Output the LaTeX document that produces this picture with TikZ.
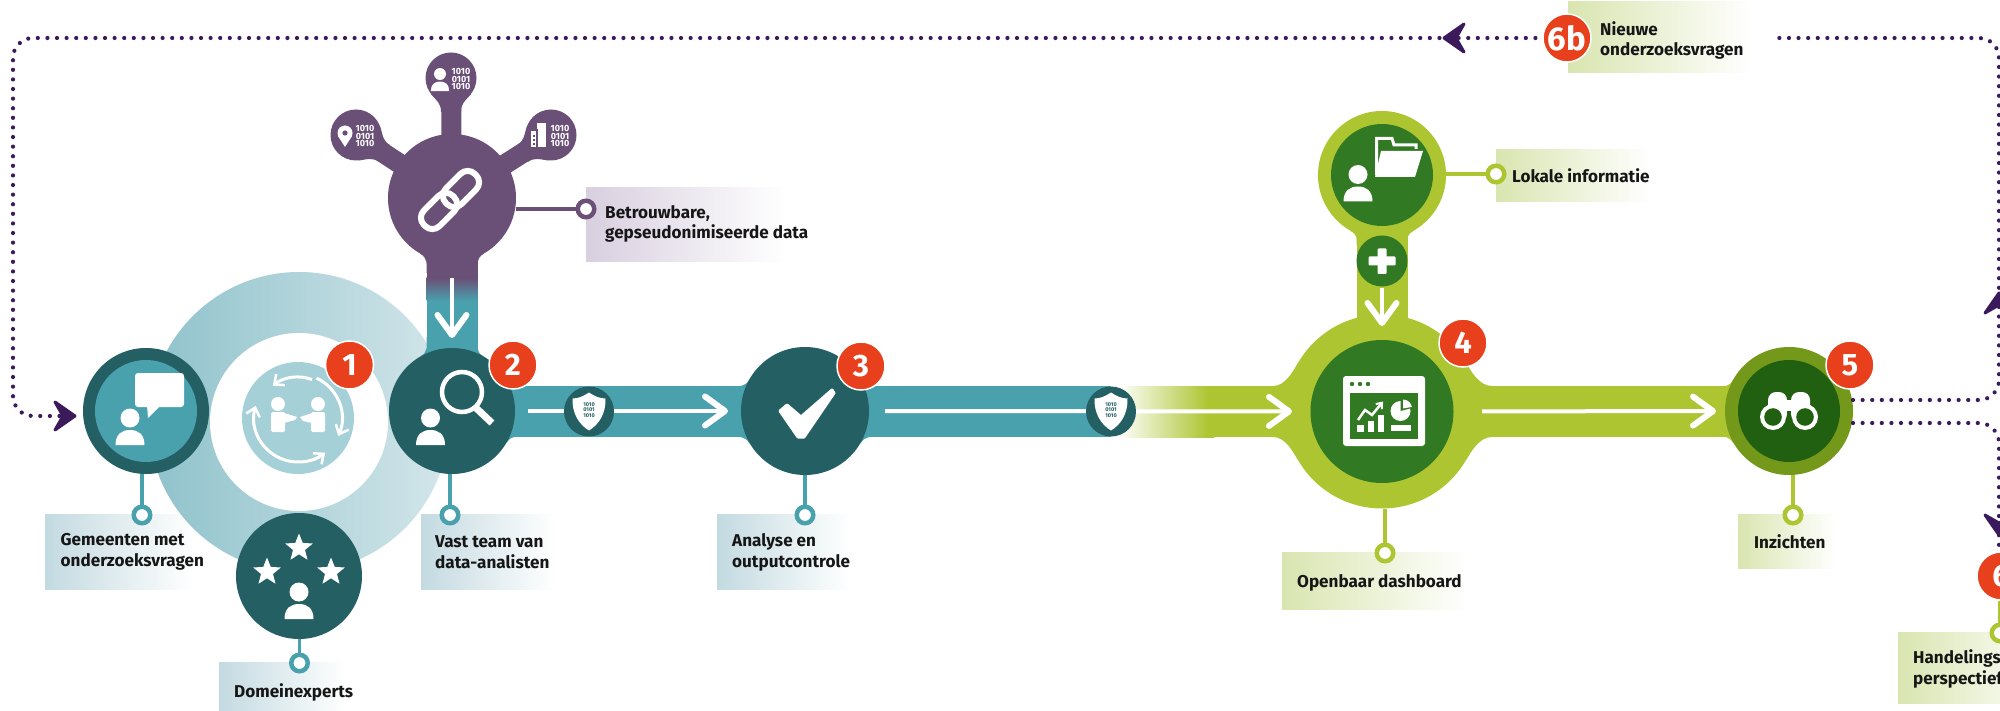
\documentclass[tikz,border=0pt]{standalone}
\usepackage{fontspec}
\setmainfont{Fira Sans}
\usetikzlibrary{backgrounds,arrows.meta,shapes.geometric,calc}
\definecolor{teal1}{HTML}{4AA1AE}
\definecolor{teal2}{HTML}{235F63}
\definecolor{teal3}{HTML}{A5D0D8}
\definecolor{ringL}{HTML}{8FC2CB}
\definecolor{ringR}{HTML}{D3E6EA}
\definecolor{grn1}{HTML}{ADC531}
\definecolor{grn2}{HTML}{317A23}
\definecolor{grn3}{HTML}{74981A}
\definecolor{grn4}{HTML}{216011}
\definecolor{purp}{HTML}{6A5077}
\definecolor{dotc}{HTML}{3B1A5C}
\definecolor{redb}{HTML}{E8401C}
\definecolor{boxT}{HTML}{C3DAE1}
\definecolor{boxG}{HTML}{D9E5B0}
\definecolor{boxP}{HTML}{D8CFDF}
\definecolor{txt}{HTML}{161616}
\pgfdeclarehorizontalshading{fadeT}{100bp}{color(0bp)=(boxT); color(25bp)=(boxT); color(72bp)=(white); color(100bp)=(white)}
\pgfdeclarehorizontalshading{fadeG}{100bp}{color(0bp)=(boxG); color(25bp)=(boxG); color(72bp)=(white); color(100bp)=(white)}
\pgfdeclarehorizontalshading{fadeP}{100bp}{color(0bp)=(boxP); color(25bp)=(boxP); color(72bp)=(white); color(100bp)=(white)}
\pgfdeclarehorizontalshading{fadeIn}{100bp}{color(0bp)=(white); color(25bp)=(white); color(72bp)=(grn1); color(100bp)=(grn1)}
\tikzset{
 hub/.style={circle,inner sep=0pt,outer sep=0pt,minimum size=#1},
 ringT/.style={circle,draw=teal1,fill=white,line width=4.5pt,inner sep=0pt,minimum size=16.5pt},
 ringG/.style={circle,draw=grn1,fill=white,line width=4.5pt,inner sep=0pt,minimum size=16.5pt},
 ringP/.style={circle,draw=purp,fill=white,line width=4.5pt,inner sep=0pt,minimum size=16.5pt},
 badge/.style={circle,fill=redb,draw=white,line width=1.5pt,inner sep=0pt,minimum size=48pt,text=white,font=\bfseries\fontsize{31}{31}\selectfont},
 lab/.style={anchor=west,align=left,inner sep=0pt,text=txt,font=\bfseries\fontsize{17.1}{20.7}\selectfont},
 bits/.style={align=center,inner sep=0pt,text=white,font=\bfseries\fontsize{9}{7.8}\selectfont},
 tinybits/.style={align=center,inner sep=0pt,text=teal2,font=\bfseries\fontsize{5.5}{5.7}\selectfont},
 wharrow/.style={draw=white,line width=4pt,-{Straight Barb[length=20pt,width=29pt,line width=6pt,round]}},
 dotline/.style={draw=dotc,line width=4.2pt,line cap=round,dash pattern=on 0pt off 9.6pt},
 stemT/.style={draw=teal1,line width=3.6pt},
 stemG/.style={draw=grn1,line width=3.6pt},
 stemP/.style={draw=purp,line width=3.6pt},
 spoke/.style={purp,line width=20pt,shorten <=-3pt,shorten >=-3pt},
 person/.pic={\fill (0,0) circle[radius=9.5];
   \fill (-14.5,27) .. controls (-14.5,16) and (-8,12) .. (0,12) .. controls (8,12) and (14.5,16) .. (14.5,27) -- cycle;},
 dart/.pic={\fill[dotc,draw=dotc,line width=3pt,line join=round] (-1,0) -- (-21,-14) -- (-13,0) -- (-21,14) -- cycle;},
 spokeflare/.pic={\fill[purp] (-20,16) .. controls (-13,24) and (-10,26) .. (-10,34) -- (10,34) .. controls (10,26) and (13,24) .. (20,16) -- cycle;},
 shield/.pic={\fill[white] (0,-19) .. controls (6,-15) and (11,-13) .. (16.5,-13) .. controls (17,2) and (10,13) .. (0,19) .. controls (-10,13) and (-17,2) .. (-16.5,-13) .. controls (-11,-13) and (-6,-15) .. (0,-19) -- cycle;},
}
\newcommand{\flareH}[6]{\fill[#6] ({#1+#3*#4},{#2-25.5}) .. controls ({#1+#3*(#4+#5*.866)/2},{#2-25.5}) and ({#1+#3*(#5*.866+5)},{#2-#5*.5+8}) .. ({#1+#3*#5*.866},{#2-#5*.5}) -- ({#1+#3*#5*.866},{#2+#5*.5}) .. controls ({#1+#3*(#5*.866+5)},{#2+#5*.5-8}) and ({#1+#3*(#4+#5*.866)/2},{#2+25.5}) .. ({#1+#3*#4},{#2+25.5}) -- cycle;}
\newcommand{\flareV}[6]{\fill[#6] ({#1-25.5},{#2+#3*#4}) .. controls ({#1-25.5},{#2+#3*(#4+#5*.866)/2}) and ({#1-#5*.5+8},{#2+#3*(#5*.866+5)}) .. ({#1-#5*.5},{#2+#3*#5*.866}) -- ({#1+#5*.5},{#2+#3*#5*.866}) .. controls ({#1+#5*.5-8},{#2+#3*(#5*.866+5)}) and ({#1+25.5},{#2+#3*(#4+#5*.866)/2}) .. ({#1+25.5},{#2+#3*#4}) -- cycle;}
\begin{document}
\begin{tikzpicture}[x=1pt,y=-1pt]
\useasboundingbox (0,0) rectangle (2000,711);
% hubs
\node[hub=126pt,fill=teal2] (A) at (146,411) {};
\node[hub=102pt,fill=teal1] (Ai) at (146,411) {};
\node[hub=178pt,fill=white] (Mw) at (299,422) {};
\node[hub=112pt,fill=teal3] (M) at (298,418) {};
\node[hub=126pt,fill=teal2] (B) at (452,411) {};
\node[hub=126pt,fill=teal2] (C) at (299,576) {};
\node[hub=128pt,fill=teal2] (D) at (805,411) {};
\node[hub=128pt,fill=purp] (H) at (452,198) {};
\node[hub=51pt,fill=purp] (H1) at (356,135) {};
\node[hub=51pt,fill=purp] (H2) at (451,78) {};
\node[hub=51pt,fill=purp] (H3) at (551,135) {};
\node[hub=194pt,fill=grn1] (Eo) at (1382,411.5) {};
\node[hub=143pt,fill=grn2] (E) at (1382,411.5) {};
\node[hub=128pt,fill=grn1] (Fo) at (1382,175) {};
\node[hub=102pt,fill=grn2] (F) at (1382,175) {};
\node[hub=51pt,fill=grn2] (P) at (1382,261) {};
\node[hub=128pt,fill=grn3] (Go) at (1789,411) {};
\node[hub=102pt,fill=grn4] (G) at (1789,411) {};
% background shapes
\begin{pgfonlayer}{background}
\fill[white] (0,0) rectangle (2000,711);
% label boxes
\shade[shading=fadeT] (45,514) rectangle (203,589);
\shade[shading=fadeT] (421,514) rectangle (564,589);
\shade[shading=fadeT] (219,662) rectangle (354,711);
\shade[shading=fadeT] (717,514) rectangle (858,589);
\shade[shading=fadeP] (586,188) rectangle (798,262);
\shade[shading=fadeG] (1496,150) rectangle (1660,202);
\shade[shading=fadeG] (1282,552.5) rectangle (1480,609);
\shade[shading=fadeG] (1738,514) rectangle (1842,568);
\shade[shading=fadeG] (1898,632) rectangle (2060,703);
\shade[shading=fadeG] (1568,2) rectangle (1763,73);
% collaboration ring
\shade[left color=ringL,right color=ringR] (299,422) circle[radius=150];
% pipes
\fill[teal1] (426.5,300) rectangle (477.5,411);
\flareV{452}{411}{-1}{74}{63}{teal1}
\shade[top color=purp,bottom color=teal1] (426.5,278) rectangle (477.5,301);
\fill[purp] (426.5,240) rectangle (477.5,278);
\flareV{452}{198}{1}{75}{64}{purp}
\draw[spoke] (H) -- (H1);
\draw[spoke] (H) -- (H2);
\draw[spoke] (H) -- (H3);
\pic at (451,78) {spokeflare};
\pic[rotate=57] at (356,135) {spokeflare};
\pic[rotate=-57] at (551,135) {spokeflare};
\fill[teal1] (452,386) rectangle (1111,437);
\flareH{452}{411.5}{1}{72}{63}{teal1}
\flareH{805}{411.5}{-1}{75}{64}{teal1}
\flareH{805}{411.5}{1}{75}{64}{teal1}
\shade[shading=fadeIn] (1118,386) rectangle (1214,437);
\fill[grn1] (1211.5,386) rectangle (1789,437);
\flareH{1382}{411.5}{-1}{109}{97}{grn1}
\flareH{1382}{411.5}{1}{110}{97}{grn1}
\flareH{1789}{411.5}{-1}{72}{64}{grn1}
\fill[grn1] (1356.5,175) rectangle (1407.5,411);
\flareV{1382}{175}{1}{70}{64}{grn1}
\end{pgfonlayer}
% label rings and stems
\node[ringT] (rA) at (142,515) {};
\node[ringT] (rB) at (450,515) {};
\node[ringT] (rC) at (299.5,663) {};
\node[ringT] (rD) at (805,515) {};
\node[ringP] (rH) at (586,209) {};
\node[ringG] (rF) at (1496,174) {};
\node[ringG] (rE) at (1385,553) {};
\node[ringG] (rG) at (1793,515) {};
\node[ringG] (r6) at (2000,633) {};
\draw[stemT] (rA) -- (rA |- A.south);
\draw[stemT] (rB) -- (rB |- B.south);
\draw[stemT] (rC) -- (rC |- C.south);
\draw[stemT] (rD) -- (rD |- D.south);
\draw[stemP] (rH) -- (rH -| H.east);
\draw[stemG] (rF) -- (rF -| Fo.east);
\draw[stemG] (rE) -- (rE |- Eo.south);
\draw[stemG] (rG) -- (rG |- Go.south);
% white arrows
\draw[wharrow,shorten <=13pt,shorten >=13pt] (B) -- (D);
\draw[wharrow,shorten <=16pt,shorten >=18.5pt] (D) -- (E);
\draw[wharrow,shorten <=28.5pt,shorten >=22pt] (E) -- (G);
\draw[wharrow,shorten <=16pt,shorten >=10pt] (H) -- (B);
\draw[wharrow,shorten <=2pt,shorten >=14pt] (P) -- (E);
% shields
\node[hub=50pt,fill=teal2] (S1) at (589,411.5) {};
\pic at (589,411.5) {shield};
\node[tinybits] (S1t) at (589,410) {1010\\0101\\1010};
\node[hub=50pt,fill=teal2] (S2) at (1111,411.5) {};
\pic at (1111,411.5) {shield};
\node[tinybits] (S2t) at (1111,410) {1010\\0101\\1010};
% icon A
\pic[white] at (130,418) {person};
\fill[white,rounded corners=3pt] (135,373) rectangle (184,407);
\fill[white] (147,405) -- (148,418) -- (161,405) -- cycle;
% icon M
\draw[white,line width=3pt,-{Straight Barb[length=8pt,width=14pt,line width=2.5pt]}] ({298+41*cos(290)},{418+41*sin(290)}) arc[start angle=290,end angle=232,radius=41];
\draw[white,line width=3pt,-{Straight Barb[length=8pt,width=14pt,line width=2.5pt]}] ({298+44*cos(295)},{418+44*sin(295)}) arc[start angle=295,end angle=384,radius=44];
\draw[white,line width=3pt,{Straight Barb[length=8pt,width=14pt,line width=2.5pt]}-{Straight Barb[length=8pt,width=14pt,line width=2.5pt]}] ({298+44*cos(196)},{418+44*sin(196)}) arc[start angle=196,end angle=52,radius=44];
\fill[white] (278,404) circle[radius=7];
\fill[white] (318,404) circle[radius=7];
\fill[white,rounded corners=1.5pt] (271,412) rectangle (285,432);
\fill[white,rounded corners=1.5pt] (311,412) rectangle (325,432);
\fill[white] (284,413) -- (297,417) -- (295,420) -- (284,423) -- cycle;
\fill[white] (312,413) -- (300,417) -- (303,421) -- (312,423) -- cycle;
% icon B
\draw[white,line width=4.5pt] (462,392) circle[radius=20];
\draw[white,line width=7pt] (475,407) -- (492,423);
\pic[white] at (430.5,418) {person};
% icon C
\node[star,star points=5,star point ratio=2.3,fill=white,inner sep=0pt,minimum size=29pt] (st1) at (299,548) {};
\node[star,star points=5,star point ratio=2.3,fill=white,inner sep=0pt,minimum size=29pt] (st2) at (267,572) {};
\node[star,star points=5,star point ratio=2.3,fill=white,inner sep=0pt,minimum size=29pt] (st3) at (331,572) {};
\pic[white] at (299,592) {person};
% icon D check
\fill[white,draw=white,line width=3pt,line join=round] (780,411) -- (787,405) -- (801,417) -- (832,390) -- (834,393) -- (804,437) -- (798,437) -- cycle;
% hub icons
\begin{scope}[shift={(450,200)},rotate=45]
\draw[white,line width=6pt,rounded corners=10pt] (-36,-11) rectangle (5,11);
\draw[white,line width=6pt,rounded corners=10pt] (-5,-11) rectangle (36,11);
\end{scope}
\pic[white,scale=.63] at (440,74) {person};
\node[bits] (b2) at (461,79) {1010\\0101\\1010};
\fill[white] (345,133) circle[radius=7.5];
\fill[white] (338,136) -- (345,147) -- (352,136) -- cycle;
\fill[purp] (345,133) circle[radius=2.6];
\node[bits] (b1) at (365,136) {1010\\0101\\1010};
\fill[white] (537,123) rectangle (546,147);
\fill[purp] (536,129) rectangle (537.5,147);
\fill[white] (531,131) rectangle (536,147);
\foreach \yy in {135,139,143} {\fill[purp] (532.5,\yy) rectangle (534.5,{\yy+2});}
\node[bits] (b3) at (560,136) {1010\\0101\\1010};
% icon F
\pic[white] at (1358,174.5) {person};
\draw[white,line width=3pt] (1376.5,175) -- (1376.5,138.5) -- (1392,138.5) -- (1394,145) -- (1416,145) -- (1416,149);
\fill[white] (1381,151) -- (1423,151) -- (1415,177) -- (1375,177) -- cycle;
% plus
\fill[white,rounded corners=1pt] (1377.5,248.5) rectangle (1386.5,274);
\fill[white,rounded corners=1pt] (1368.5,256.5) rectangle (1395.5,265.5);
% dashboard
\fill[white,rounded corners=3pt] (1343,376) rectangle (1425,446);
\fill[grn2] (1350,392.5) rectangle (1418,439);
\foreach \xx in {1352,1360,1368} {\fill[grn2] (\xx,384) circle[radius=2.2];}
\fill[white] (1357,424.5) rectangle (1364,432);
\fill[white] (1368,420.5) rectangle (1374,432);
\fill[white] (1378,415) rectangle (1384,432);
\draw[white,line width=2.5pt,-{Straight Barb[length=5pt,width=8pt,line width=2pt]}] (1358,420) -- (1365,410) -- (1372,415) -- (1383,401.5);
\fill[white] (1400.5,411) circle[radius=10];
\fill[grn2] (1400.5,411) -- (1400.5,400.5) arc[start angle=-90,end angle=-15,radius=10.5] -- cycle;
\fill[white] (1403,408.5) -- (1403,399.5) arc[start angle=-90,end angle=-10,radius=9] -- cycle;
\fill[white] (1391,425) rectangle (1411,431);
% binoculars
\fill[white,rounded corners=8pt] (1768,392) rectangle (1787,422);
\fill[white,rounded corners=8pt] (1791,392) rectangle (1810,422);
\fill[white] (1785,400) rectangle (1793,412);
\fill[white] (1773,417) circle[radius=13];
\fill[white] (1805,417) circle[radius=13];
\fill[grn4] (1773,417) circle[radius=8.8];
\fill[grn4] (1805,417) circle[radius=8.8];
\fill[grn4] (1787,411) rectangle (1791,425);
% dotted lines
\coordinate (gup) at (1853,400);
\coordinate (gdn) at (1853,423);
\coordinate (nw) at (1771,38);
\draw[dotline,rounded corners=20pt] (1545,38) -- (13,38) -- (13,416) -- (60,416);
\draw[dotline,rounded corners=20pt] (gup) -- (1999,400) -- (1999,38) -- (nw);
\draw[dotline,rounded corners=20pt] (gdn) -- (1999,423) -- (1999,553);
\pic at (76,416) {dart};
\pic[rotate=180] at (1443,38) {dart};
\pic[rotate=90] at (1999,292) {dart};
\pic[rotate=-90] at (1999,536) {dart};
\node[badge,font=\bfseries\fontsize{33}{33}\selectfont] (B6b) at (1567,38) {6b};
\node[badge] (B6) at (2001,576) {6};
\draw[stemG] (r6) -- (r6 |- B6.south);
% badges
\node[badge] (B1) at (349.5,365) {1};
\node[badge] (B2) at (513,365) {2};
\node[badge] (B3) at (861,366) {3};
\node[badge] (B4) at (1463,343) {4};
\node[badge] (B5) at (1850,365) {5};
% labels
\node[lab] (tA) at (60.5,552) {Gemeenten met\\onderzoeksvragen};
\node[lab] (tB) at (435,552) {Vast team van\\data-analisten};
\node[lab] (tC) at (234,692) {Domeinexperts};
\node[lab] (tD) at (732,552.5) {Analyse en\\outputcontrole};
\node[lab] (tH) at (605,224) {Betrouwbare,\\gepseudonimiseerde data};
\node[lab] (tF) at (1512,175.5) {Lokale informatie};
\node[lab] (tE) at (1297,582.5) {Openbaar dashboard};
\node[lab] (tG) at (1754,542) {Inzichten};
\node[lab] (t6) at (1913,669) {Handelings\\perspectief};
\node[lab] (t6b) at (1600,40.5) {Nieuwe\\onderzoeksvragen};
\end{tikzpicture}
\end{document}
